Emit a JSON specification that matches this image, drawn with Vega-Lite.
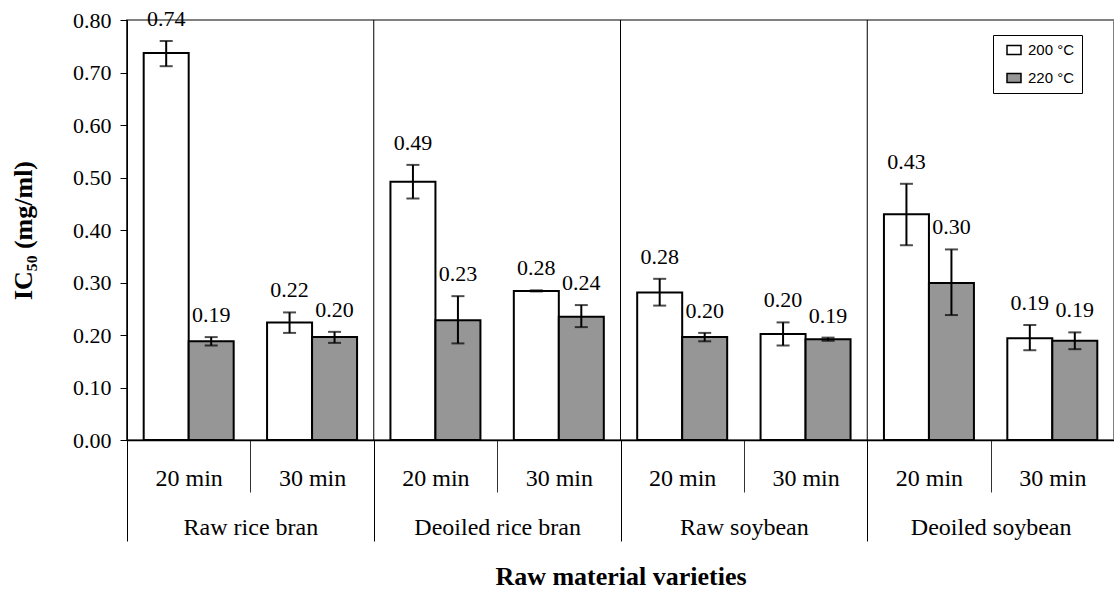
{
  "$schema": "https://vega.github.io/schema/vega-lite/v6.json",
  "autosize": "none",
  "width": 987,
  "height": 420,
  "padding": {"left": 127, "top": 20, "right": 0, "bottom": 150},
  "config": {
    "view": {"stroke": "#808080", "strokeWidth": 2},
    "font": "Liberation Serif",
    "axis": {"labelColor": "black", "titleColor": "black", "labelFont": "Liberation Serif", "titleFont": "Liberation Serif"}
  },
  "layer": [
    {
      "data": {"values": [
        {"material": "Raw rice bran", "time": "20 min", "group": "Raw rice bran|20 min", "temp": "200 °C", "value": 0.737, "lo": 0.712, "hi": 0.760, "label": "0.74"},
        {"material": "Raw rice bran", "time": "20 min", "group": "Raw rice bran|20 min", "temp": "220 °C", "value": 0.188, "lo": 0.180, "hi": 0.196, "label": "0.19"},
        {"material": "Raw rice bran", "time": "30 min", "group": "Raw rice bran|30 min", "temp": "200 °C", "value": 0.224, "lo": 0.204, "hi": 0.243, "label": "0.22"},
        {"material": "Raw rice bran", "time": "30 min", "group": "Raw rice bran|30 min", "temp": "220 °C", "value": 0.196, "lo": 0.185, "hi": 0.206, "label": "0.20"},
        {"material": "Deoiled rice bran", "time": "20 min", "group": "Deoiled rice bran|20 min", "temp": "200 °C", "value": 0.492, "lo": 0.460, "hi": 0.524, "label": "0.49"},
        {"material": "Deoiled rice bran", "time": "20 min", "group": "Deoiled rice bran|20 min", "temp": "220 °C", "value": 0.228, "lo": 0.184, "hi": 0.274, "label": "0.23"},
        {"material": "Deoiled rice bran", "time": "30 min", "group": "Deoiled rice bran|30 min", "temp": "200 °C", "value": 0.284, "lo": 0.283, "hi": 0.285, "label": "0.28"},
        {"material": "Deoiled rice bran", "time": "30 min", "group": "Deoiled rice bran|30 min", "temp": "220 °C", "value": 0.235, "lo": 0.215, "hi": 0.257, "label": "0.24"},
        {"material": "Raw soybean", "time": "20 min", "group": "Raw soybean|20 min", "temp": "200 °C", "value": 0.281, "lo": 0.256, "hi": 0.307, "label": "0.28"},
        {"material": "Raw soybean", "time": "20 min", "group": "Raw soybean|20 min", "temp": "220 °C", "value": 0.196, "lo": 0.188, "hi": 0.204, "label": "0.20"},
        {"material": "Raw soybean", "time": "30 min", "group": "Raw soybean|30 min", "temp": "200 °C", "value": 0.202, "lo": 0.180, "hi": 0.224, "label": "0.20"},
        {"material": "Raw soybean", "time": "30 min", "group": "Raw soybean|30 min", "temp": "220 °C", "value": 0.192, "lo": 0.189, "hi": 0.195, "label": "0.19"},
        {"material": "Deoiled soybean", "time": "20 min", "group": "Deoiled soybean|20 min", "temp": "200 °C", "value": 0.430, "lo": 0.371, "hi": 0.488, "label": "0.43"},
        {"material": "Deoiled soybean", "time": "20 min", "group": "Deoiled soybean|20 min", "temp": "220 °C", "value": 0.299, "lo": 0.238, "hi": 0.363, "label": "0.30"},
        {"material": "Deoiled soybean", "time": "30 min", "group": "Deoiled soybean|30 min", "temp": "200 °C", "value": 0.194, "lo": 0.171, "hi": 0.219, "label": "0.19"},
        {"material": "Deoiled soybean", "time": "30 min", "group": "Deoiled soybean|30 min", "temp": "220 °C", "value": 0.189, "lo": 0.173, "hi": 0.205, "label": "0.19"}
      ]},
      "encoding": {
        "x": {
          "field": "group", "type": "nominal", "sort": null,
          "scale": {"paddingInner": 0, "paddingOuter": 0},
          "axis": {
            "orient": "bottom", "title": null, "labelAngle": 0,
            "labelExpr": "split(datum.value, '|')[1]",
            "labelFontSize": 24, "labelPadding": -26,
            "tickBand": "extent", "tickSize": 52, "tickColor": "#333333", "tickWidth": 1,
            "domain": true, "domainColor": "black", "domainWidth": 1.5, "grid": false
          }
        },
        "xOffset": {
          "field": "temp", "type": "nominal", "sort": ["200 °C", "220 °C"],
          "scale": {"paddingInner": 0, "paddingOuter": 0.371}
        }
      },
      "layer": [
        {
          "mark": {"type": "bar", "stroke": "black", "strokeWidth": 2},
          "encoding": {
            "y": {
              "field": "value", "type": "quantitative",
              "scale": {"domain": [0, 0.8], "nice": false, "zero": true},
              "axis": {
                "values": [0, 0.1, 0.2, 0.3, 0.4, 0.5, 0.6, 0.7, 0.8], "format": ".2f",
                "labelFontSize": 22, "labelPadding": 9, "tickSize": 7, "tickColor": "black",
                "domainColor": "black", "domainWidth": 1, "grid": false,
                "title": "IC₅₀ (mg/ml)", "titleFontSize": 26, "titleFontWeight": "bold", "titlePadding": 36
              }
            },
            "fill": {
              "field": "temp", "type": "nominal",
              "scale": {"domain": ["200 °C", "220 °C"], "range": ["white", "#969696"]},
              "legend": {
                "title": null, "orient": "none", "legendX": 866, "legendY": 15,
                "direction": "vertical",
                "labelFont": "Liberation Sans", "labelFontSize": 15, "labelColor": "black",
                "labelOffset": 6, "symbolOffset": 6,
                "symbolType": "M-1,-0.65H1V0.65H-1Z", "symbolSize": 196,
                "symbolStrokeColor": "black", "symbolStrokeWidth": 1.5,
                "rowPadding": 12, "padding": 7,
                "strokeColor": "black", "fillColor": "white"
              }
            }
          }
        },
        {
          "mark": {"type": "rule", "color": "black", "strokeWidth": 2},
          "encoding": {
            "y": {"field": "lo", "type": "quantitative"},
            "y2": {"field": "hi"}
          }
        },
        {
          "mark": {"type": "tick", "color": "black", "size": 13, "thickness": 2, "orient": "horizontal"},
          "encoding": {"y": {"field": "lo", "type": "quantitative"}}
        },
        {
          "mark": {"type": "tick", "color": "black", "size": 13, "thickness": 2, "orient": "horizontal"},
          "encoding": {"y": {"field": "hi", "type": "quantitative"}}
        },
        {
          "mark": {"type": "text", "font": "Liberation Serif", "fontSize": 22, "color": "black", "baseline": "middle", "dy": -22},
          "encoding": {
            "y": {"field": "hi", "type": "quantitative"},
            "text": {"field": "label"}
          }
        }
      ]
    },
    {
      "data": {"values": [
        {"material": "Raw rice bran"},
        {"material": "Deoiled rice bran"},
        {"material": "Raw soybean"},
        {"material": "Deoiled soybean"}
      ]},
      "mark": {"type": "rule", "color": "black", "strokeWidth": 1},
      "encoding": {
        "x": {
          "field": "material", "type": "nominal", "sort": null, "bandPosition": 0,
          "scale": {"paddingInner": 0, "paddingOuter": 0},
          "axis": {
            "orient": "bottom", "labelAngle": 0, "labelFontSize": 24, "labelPadding": -26,
            "tickBand": "extent", "tickSize": 101, "tickColor": "black", "tickWidth": 1,
            "domain": false, "grid": false,
            "title": "Raw material varieties", "titleFontSize": 26, "titleFontWeight": "bold", "titlePadding": 22
          }
        }
      }
    }
  ],
  "resolve": {"scale": {"x": "independent"}, "axis": {"x": "independent"}}
}
